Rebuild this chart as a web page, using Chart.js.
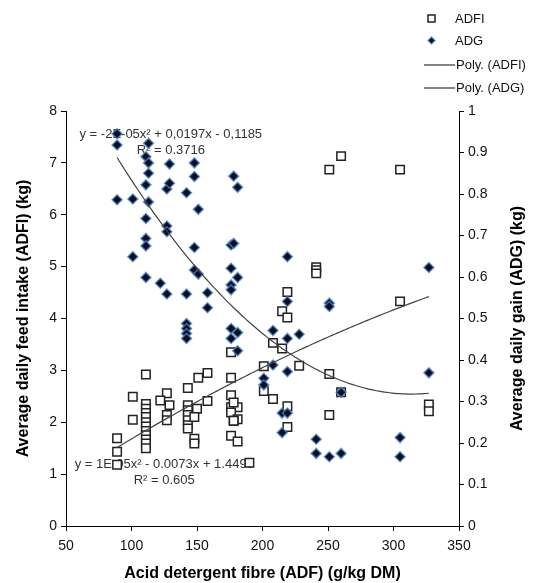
<!DOCTYPE html>
<html>
<head>
<meta charset="utf-8">
<script src="https://cdn.jsdelivr.net/npm/chart.js@4"></script>
<style>
  html, body { margin: 0; padding: 0; background: #fff; }
  #wrap { width: 538px; height: 583px; }
</style>
</head>
<body>
<div id="wrap"><canvas id="chart" width="538" height="583"></canvas></div>
<script>
// ADF (g/kg DM) and ADFI (kg) for each feed
const adfiX = [260, 251, 305, 241, 241, 241, 219, 215, 219, 305, 215, 228, 251, 260, 327, 327, 219, 219, 251,
  208, 201, 176, 176, 151, 158, 143, 176, 158, 201, 208, 176, 181, 176, 181, 178, 176, 181, 148, 148, 190,
  111, 101, 127, 122, 129, 111, 111, 111, 111, 111, 111, 111, 111, 111, 111, 111,
  101, 127, 127, 143, 143, 143, 143, 143, 143, 150, 148, 178, 178, 89, 89, 89];
const adfiY = [7.13, 6.87, 6.87, 4.99, 4.93, 4.87, 4.51, 4.14, 4.02, 4.33, 3.42, 3.09, 2.93, 2.58, 2.34, 2.21, 2.31, 1.91, 2.14,
  3.53, 3.08, 3.35, 2.86, 2.86, 2.95, 2.66, 2.52, 2.41, 2.60, 2.45, 2.29, 2.29, 2.19, 2.06, 2.03, 1.74, 1.63, 1.68, 1.59, 1.22,
  2.92, 2.49, 2.56, 2.42, 2.33, 2.35, 2.26, 2.18, 2.10, 2.00, 1.92, 1.83, 1.75, 1.67, 1.59, 1.50,
  2.05, 2.14, 2.04, 2.33, 2.23, 2.14, 2.04, 1.94, 1.88, 2.26, 2.10, 2.38, 2.03, 1.69, 1.43, 1.18];

// ADF (g/kg DM) and ADG (kg) for each feed
const adgX = [89, 89, 89, 101, 101, 111, 111, 111, 111, 111, 111, 113, 113, 113, 113, 122, 127, 127, 127, 127,
  129, 129, 142, 142, 142, 142, 142, 142, 148, 148, 148, 148, 151, 151, 158, 158,
  176, 176, 176, 176, 176, 176, 178, 178, 181, 181, 181, 181, 201, 201, 208, 208, 215, 215,
  219, 219, 219, 219, 219, 228, 241, 241, 251, 251, 251, 260, 260, 305, 305, 327, 327];
const adgY = [0.945, 0.918, 0.786, 0.788, 0.649, 0.890, 0.822, 0.741, 0.693, 0.675, 0.599, 0.922, 0.875, 0.850, 0.781, 0.585, 0.812, 0.723, 0.709, 0.559,
  0.872, 0.826, 0.803, 0.559, 0.488, 0.476, 0.464, 0.452, 0.875, 0.842, 0.671, 0.617, 0.763, 0.607, 0.562, 0.526,
  0.677, 0.621, 0.581, 0.569, 0.476, 0.452, 0.843, 0.681, 0.816, 0.599, 0.466, 0.422, 0.356, 0.340, 0.471, 0.388, 0.272, 0.225,
  0.649, 0.541, 0.452, 0.372, 0.272, 0.462, 0.209, 0.175, 0.537, 0.529, 0.167, 0.322, 0.175, 0.213, 0.167, 0.623, 0.369];

const adfiEquation = ['y = 1E-05x\u00b2 - 0.0073x + 1.4490', 'R\u00b2 = 0.605'];
const adgEquation = ['y = -2E-05x\u00b2 + 0,0197x - 0,1185', 'R\u00b2 = 0.3716'];

const FONT = 'Arial, "Liberation Sans", sans-serif';

// least squares quadratic, same as the spreadsheet's "Poly." trendline
function quadFit(xs, ys) {
  const s = [0, 0, 0, 0, 0], t = [0, 0, 0];
  xs.forEach((x, i) => {
    let p = 1;
    for (let k = 0; k < 5; k++) { s[k] += p; if (k < 3) t[k] += p * ys[i]; p *= x; }
  });
  const m = [[s[0], s[1], s[2], t[0]], [s[1], s[2], s[3], t[1]], [s[2], s[3], s[4], t[2]]];
  for (let c = 0; c < 3; c++) {
    for (let r = c + 1; r < 3; r++) {
      const f = m[r][c] / m[c][c];
      for (let k = c; k < 4; k++) m[r][k] -= f * m[c][k];
    }
  }
  const co = [0, 0, 0];
  for (let r = 2; r >= 0; r--) {
    let v = m[r][3];
    for (let k = r + 1; k < 3; k++) v -= m[r][k] * co[k];
    co[r] = v / m[r][r];
  }
  return co;
}

function trendPoints(xs, ys) {
  const co = quadFit(xs, ys);
  const lo = Math.min(...xs), hi = Math.max(...xs);
  const pts = [];
  for (let x = lo; x <= hi; x += 2) pts.push({ x: x, y: co[0] + co[1] * x + co[2] * x * x });
  return pts;
}

const toPoints = (xs, ys) => xs.map((x, i) => ({ x: x, y: ys[i] }));

// equations are drawn under the markers, like in the original
const equationText = {
  id: 'equationText',
  beforeDatasetsDraw(chart) {
    const ctx = chart.ctx, sx = chart.scales.x, sy = chart.scales.y;
    ctx.save();
    ctx.fillStyle = '#333';
    ctx.font = '13px ' + FONT;
    ctx.textAlign = 'center';
    ctx.textBaseline = 'middle';
    ctx.fillText(adgEquation[0], sx.getPixelForValue(130), sy.getPixelForValue(7.55));
    ctx.fillText(adgEquation[1], sx.getPixelForValue(130), sy.getPixelForValue(7.24));
    ctx.fillText(adfiEquation[0], sx.getPixelForValue(125), sy.getPixelForValue(1.18));
    ctx.fillText(adfiEquation[1], sx.getPixelForValue(125), sy.getPixelForValue(0.88));
    ctx.restore();
  }
};

// legend stacked in the top right corner + right axis title reading upwards
const sideBits = {
  id: 'sideBits',
  afterDraw(chart) {
    const ctx = chart.ctx;
    ctx.save();
    ctx.font = '13px ' + FONT;
    ctx.textBaseline = 'middle';
    ctx.textAlign = 'left';
    ctx.fillStyle = '#111';

    ctx.strokeStyle = '#222';
    ctx.lineWidth = 1.5;
    ctx.strokeRect(428, 15, 7, 7);
    ctx.fillText('ADFI', 455, 19);

    ctx.beginPath();
    ctx.moveTo(431.5, 37); ctx.lineTo(435, 40.5); ctx.lineTo(431.5, 44); ctx.lineTo(428, 40.5); ctx.closePath();
    ctx.fillStyle = '#0a1020';
    ctx.fill();
    ctx.strokeStyle = 'rgba(80,130,200,0.75)';
    ctx.lineWidth = 1.5;
    ctx.stroke();
    ctx.fillStyle = '#111';
    ctx.fillText('ADG', 455, 41);

    ctx.strokeStyle = '#333';
    ctx.lineWidth = 1.2;
    ctx.beginPath(); ctx.moveTo(424, 65); ctx.lineTo(455, 65); ctx.stroke();
    ctx.fillText('Poly. (ADFI)', 456, 65);
    ctx.beginPath(); ctx.moveTo(424, 88); ctx.lineTo(455, 88); ctx.stroke();
    ctx.fillText('Poly. (ADG)', 456, 88);

    const area = chart.chartArea;
    ctx.translate(518, (area.top + area.bottom) / 2);
    ctx.rotate(-Math.PI / 2);
    ctx.textAlign = 'center';
    ctx.font = 'bold 16px ' + FONT;
    ctx.fillStyle = '#000';
    ctx.fillText('Average daily gain (ADG) (kg)', 0, 0);
    ctx.restore();
  }
};

const axisGrid = { drawOnChartArea: false, drawTicks: true, tickLength: 5, color: '#000' };
const tickFont = { family: FONT, size: 14 };

new Chart(document.getElementById('chart').getContext('2d'), {
  type: 'scatter',
  data: {
    datasets: [
      {
        label: 'Poly. (ADFI)',
        type: 'line',
        data: trendPoints(adfiX, adfiY),
        yAxisID: 'y',
        borderColor: '#444',
        borderWidth: 1.2,
        pointRadius: 0,
        fill: false,
        order: 0
      },
      {
        label: 'Poly. (ADG)',
        type: 'line',
        data: trendPoints(adgX, adgY),
        yAxisID: 'y1',
        borderColor: '#444',
        borderWidth: 1.2,
        pointRadius: 0,
        fill: false,
        order: 0
      },
      {
        label: 'ADG',
        data: toPoints(adgX, adgY),
        yAxisID: 'y1',
        pointStyle: 'rectRot',
        pointRadius: 5,
        backgroundColor: '#0a1020',
        borderColor: 'rgba(80,130,200,0.75)',
        borderWidth: 1.5,
        order: 1
      },
      {
        label: 'ADFI',
        data: toPoints(adfiX, adfiY),
        yAxisID: 'y',
        pointStyle: 'rect',
        pointRadius: 6,
        backgroundColor: '#fff',
        borderColor: '#222',
        borderWidth: 1.5,
        order: 2
      }
    ]
  },
  options: {
    responsive: false,
    animation: false,
    layout: { padding: { top: 111, left: 0, right: 0, bottom: 0 } },
    plugins: {
      legend: { display: false },
      tooltip: { enabled: false }
    },
    scales: {
      x: {
        type: 'linear',
        min: 50,
        max: 350,
        ticks: { stepSize: 50, font: tickFont, color: '#111', padding: 7 },
        grid: axisGrid,
        border: { color: '#000', width: 1 },
        title: { display: true, text: 'Acid detergent fibre (ADF) (g/kg DM)', color: '#000', font: { family: FONT, size: 16, weight: 'bold' }, padding: { top: 3, bottom: 0 } },
        afterFit: s => { s.height = 57; }
      },
      y: {
        position: 'left',
        min: 0,
        max: 8,
        ticks: { stepSize: 1, font: tickFont, color: '#111', padding: 4 },
        grid: axisGrid,
        border: { color: '#000', width: 1 },
        title: { display: true, text: 'Average daily feed intake (ADFI) (kg)', color: '#000', font: { family: FONT, size: 16, weight: 'bold' }, padding: { top: 14, bottom: 0 } },
        afterFit: s => { s.width = 66; }
      },
      y1: {
        position: 'right',
        min: 0,
        max: 1,
        ticks: { stepSize: 0.1, font: tickFont, color: '#111', padding: 4, callback: v => String(Number(v.toFixed(1))) },
        grid: axisGrid,
        border: { color: '#000', width: 1 },
        afterFit: s => { s.width = 79; }
      }
    }
  },
  plugins: [equationText, sideBits]
});
</script>
</body>
</html>
